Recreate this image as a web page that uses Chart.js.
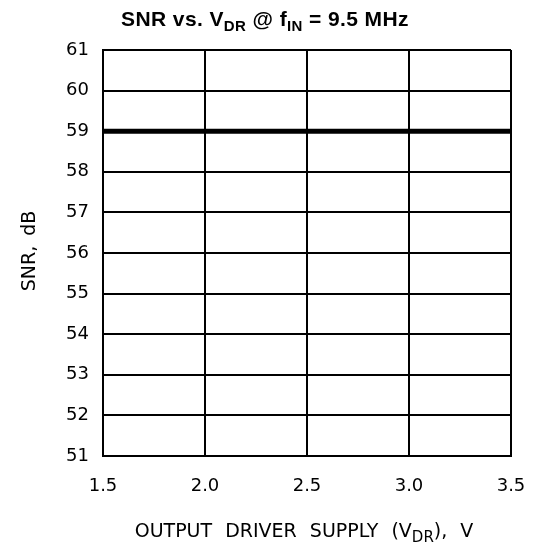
<!DOCTYPE html>
<html>
<head>
<meta charset="utf-8">
<style>
  html, body { margin: 0; padding: 0; background: #fff; }
  #wrap { width: 539px; height: 546px; }
</style>
<script src="https://cdn.jsdelivr.net/npm/chart.js@4/dist/chart.umd.min.js"></script>
</head>
<body>
<div id="wrap"><canvas id="snrChart" width="539" height="546"></canvas></div>
<script>
// data
const vdr = [1.5, 2.0, 2.5, 3.0, 3.5]
const snr = [59, 59, 59, 59, 59]
const yTicks = [51, 52, 53, 54, 55, 56, 57, 58, 59, 60, 61]
const xTicks = [1.5, 2.0, 2.5, 3.0, 3.5]

// [text, subscript]
const titleParts = [['SNR vs. V', false], ['DR', true], [' @ f', false], ['IN', true], [' = 9.5 MHz', false]]
const xTitleParts = [['OUTPUT DRIVER SUPPLY (V', false], ['DR', true], ['), V', false]]
const yTitle = 'SNR, dB'

// draws a run of text with subscripts, centred on cx
function drawParts(ctx, parts, cx, y, font, subFont, subDrop, wordSp, letterSp){
  ctx.save()
  ctx.fillStyle = '#000'
  ctx.textBaseline = 'alphabetic'
  ctx.textAlign = 'left'
  if (wordSp) ctx.wordSpacing = wordSp
  if (letterSp) ctx.letterSpacing = letterSp
  let total = 0
  parts.forEach(([t, sub]) => { ctx.font = sub ? subFont : font; total += ctx.measureText(t).width })
  let x = cx - total/2
  parts.forEach(([t, sub]) => {
    ctx.font = sub ? subFont : font
    ctx.fillText(t, x, sub ? y + subDrop : y)
    x += ctx.measureText(t).width
  })
  ctx.restore()
}

const labelsPlugin = {
  id: 'labels',
  afterDraw(chart){
    const ctx = chart.ctx
    drawParts(ctx, titleParts, 265, 26, 'bold 21px "Liberation Sans"', 'bold 15px "Liberation Sans"', 5, null, '0.4px')
    drawParts(ctx, xTitleParts, 304, 537, '19px "DejaVu Sans"', '15px "DejaVu Sans"', 5, '7px')
    ctx.save()
    ctx.translate(35, 251)
    ctx.rotate(-Math.PI/2)
    ctx.font = '19px "DejaVu Sans"'
    ctx.textAlign = 'center'
    ctx.textBaseline = 'alphabetic'
    ctx.wordSpacing = '4px'
    ctx.fillText(yTitle, 0, 0)
    ctx.restore()
  }
}

const ctx = document.getElementById('snrChart').getContext('2d')
const chart = new Chart(ctx, {
  type: 'line',
  data: {
    datasets: [{
      data: vdr.map((v, i) => ({x: v, y: snr[i]})),
      borderColor: '#000',
      borderWidth: 5,
      pointRadius: 0,
      tension: 0
    }]
  },
  options: {
    responsive: false,
    animation: false,
    layout: { padding: { left: 0, right: 28, top: 50, bottom: 0 } },
    plugins: { legend: { display: false }, tooltip: { enabled: false } },
    scales: {
      x: {
        type: 'linear', min: 1.5, max: 3.5,
        afterBuildTicks: s => { s.ticks = xTicks.map(v => ({value: v})) },
        afterFit: s => { s.height = 90; s.paddingLeft = 0; s.paddingRight = 0 },
        ticks: { color: '#000', font: {family: 'DejaVu Sans', size: 18}, padding: 20, maxRotation: 0, callback: v => v.toFixed(1) },
        grid: { color: '#000', lineWidth: 2, drawTicks: false },
        border: { color: '#000', width: 2 }
      },
      y: {
        min: 51, max: 61,
        afterBuildTicks: s => { s.ticks = yTicks.map(v => ({value: v})) },
        afterFit: s => { s.width = 103; s.paddingTop = 0; s.paddingBottom = 0 },
        ticks: { color: '#000', font: {family: 'DejaVu Sans', size: 18}, padding: 14 },
        grid: { color: '#000', lineWidth: 2, drawTicks: false },
        border: { color: '#000', width: 2 }
      }
    }
  },
  plugins: [labelsPlugin]
})
</script>
</body>
</html>
